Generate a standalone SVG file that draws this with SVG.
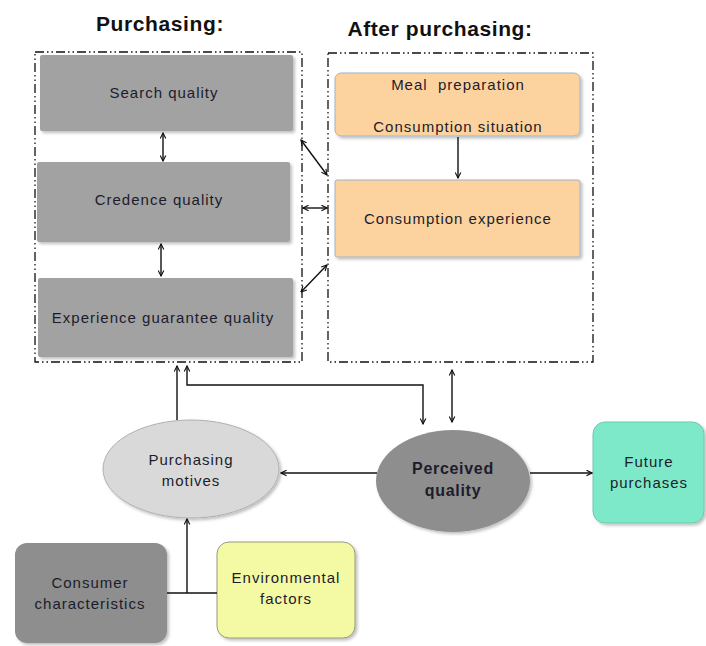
<svg xmlns="http://www.w3.org/2000/svg" width="706" height="646" viewBox="0 0 706 646">
<style>
text{font-family:"Liberation Sans",Arial,sans-serif;fill:#1c1c2c;text-anchor:middle}
.title{font-size:21px;font-weight:bold;fill:#111;letter-spacing:0.6px}
.t{font-size:15px;letter-spacing:1px}
.tb{font-size:16px;font-weight:bold;letter-spacing:0.7px}
.cont{fill:none;stroke:#111;stroke-width:1.3;stroke-dasharray:9 3 1.5 3 1.5 3}
.gbox{fill:#a2a2a2;filter:url(#sh)}
.obox{fill:#fcd39e;stroke:#9fb4c8;stroke-width:1;filter:url(#sh)}
.ln{fill:none;stroke:#111;stroke-width:1.4}
</style>
<defs>
<filter id="sh" x="-10%" y="-10%" width="125%" height="130%">
<feDropShadow dx="2" dy="2" stdDeviation="1.5" flood-color="#000" flood-opacity="0.25"/>
</filter>
<marker id="ah" viewBox="0 0 10 10" refX="9" refY="5" markerWidth="7" markerHeight="7" orient="auto-start-reverse" markerUnits="userSpaceOnUse">
<path d="M1,1 L9,5 L1,9" fill="none" stroke="#111" stroke-width="1.6"/>
</marker>
</defs>
<rect width="706" height="646" fill="#fff"/>
<text class="title" x="160" y="31">Purchasing:</text>
<text class="title" x="440" y="36">After purchasing:</text>
<rect class="cont" x="35" y="52" width="267" height="310"/>
<rect class="cont" x="328" y="53" width="265" height="309"/>
<g id="search-quality"><rect class="gbox" x="40" y="55" width="253" height="76" rx="2"/><text class="t" x="164" y="98">Search quality</text></g>
<g id="credence-quality"><rect class="gbox" x="37" y="162" width="253" height="80" rx="2"/><text class="t" x="159" y="205">Credence quality</text></g>
<g id="experience-guarantee-quality"><rect class="gbox" x="38" y="278" width="255" height="79" rx="2"/><text class="t" x="163" y="323">Experience guarantee quality</text></g>
<g id="meal-preparation"><rect class="obox" x="335" y="73" width="245" height="63" rx="6"/><text class="t" x="458" y="90">Meal&#160; preparation</text><text class="t" x="458" y="132">Consumption situation</text></g>
<g id="consumption-experience"><rect class="obox" x="335" y="180" width="245" height="77" rx="2"/><text class="t" x="458" y="224">Consumption experience</text></g>
<g id="purchasing-motives"><ellipse cx="191" cy="469" rx="88" ry="49" fill="#d9d9d9" stroke="#b0b0b0" stroke-width="1" filter="url(#sh)"/><text class="t" x="191" y="465">Purchasing</text><text class="t" x="191" y="486">motives</text></g>
<g id="perceived-quality"><ellipse cx="453" cy="481" rx="77" ry="51" fill="#8e8e8e" filter="url(#sh)"/><text class="tb" x="453" y="474">Perceived</text><text class="tb" x="453" y="496">quality</text></g>
<g id="future-purchases"><rect x="593" y="422" width="111" height="101" rx="12" fill="#7ee9c9" stroke="#6cc9ae" stroke-width="1" filter="url(#sh)"/><text class="t" x="649" y="467">Future</text><text class="t" x="649" y="488">purchases</text></g>
<g id="consumer-characteristics"><rect x="15" y="543" width="152" height="100" rx="12" fill="#8e8e8e" filter="url(#sh)"/><text class="t" x="90" y="588">Consumer</text><text class="t" x="90" y="609">characteristics</text></g>
<g id="environmental-factors"><rect x="217" y="542" width="138" height="96" rx="12" fill="#f4f9a4" stroke="#9a9a7a" stroke-width="1" filter="url(#sh)"/><text class="t" x="286" y="583">Environmental</text><text class="t" x="286" y="604">factors</text></g>
<g id="connectors">
<line class="ln" x1="163" y1="133" x2="163" y2="161" marker-start="url(#ah)" marker-end="url(#ah)"/>
<line class="ln" x1="161" y1="244" x2="161" y2="276" marker-start="url(#ah)" marker-end="url(#ah)"/>
<line class="ln" x1="458" y1="137" x2="458" y2="178" marker-end="url(#ah)"/>
<line class="ln" x1="301" y1="140" x2="327" y2="175" marker-start="url(#ah)" marker-end="url(#ah)"/>
<line class="ln" x1="303" y1="208" x2="327" y2="208" marker-start="url(#ah)" marker-end="url(#ah)"/>
<line class="ln" x1="301" y1="292" x2="327" y2="265" marker-start="url(#ah)" marker-end="url(#ah)"/>
<line class="ln" x1="177" y1="420" x2="177" y2="366" marker-end="url(#ah)"/>
<polyline class="ln" points="423,424 423,385 187,385 187,366" marker-start="url(#ah)" marker-end="url(#ah)"/>
<line class="ln" x1="452" y1="370" x2="452" y2="422" marker-start="url(#ah)" marker-end="url(#ah)"/>
<line class="ln" x1="377" y1="473" x2="281" y2="473" marker-end="url(#ah)"/>
<line class="ln" x1="530" y1="473" x2="592" y2="473" marker-end="url(#ah)"/>
<polyline class="ln" points="167,593 217,593"/>
<line class="ln" x1="187" y1="593" x2="187" y2="519" marker-end="url(#ah)"/>
</g>
</svg>
